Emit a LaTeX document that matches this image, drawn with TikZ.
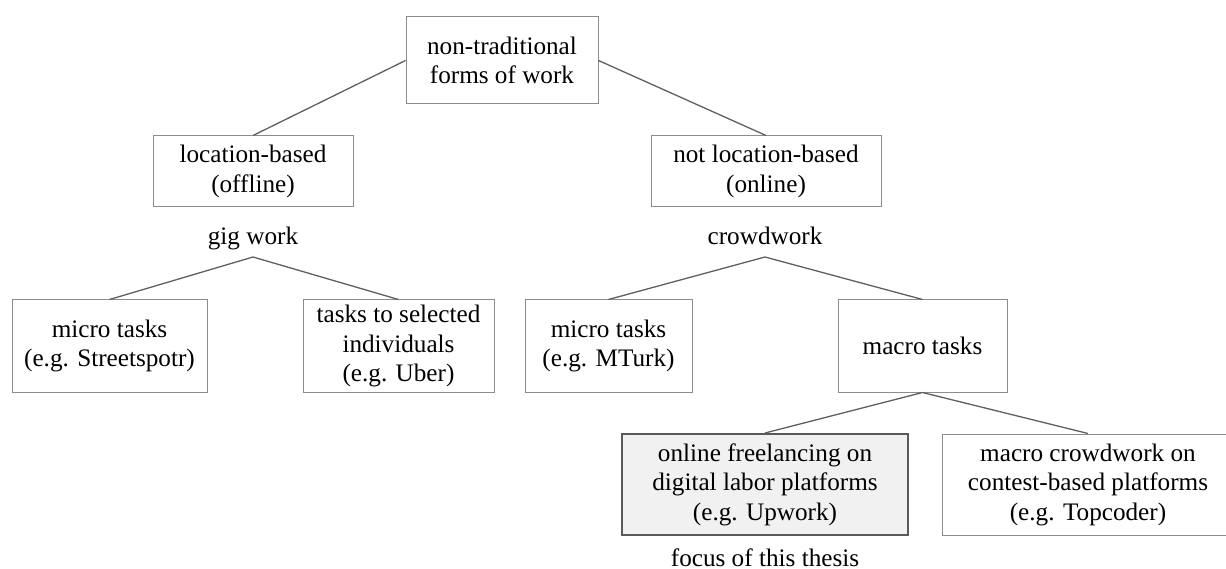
\documentclass[tikz,border=0pt]{standalone}
\usepackage{fontspec}
\setmainfont{Liberation Serif}
\definecolor{boxgray}{RGB}{140,140,140}
\definecolor{linegray}{RGB}{95,95,95}
\definecolor{focusgray}{RGB}{90,90,90}
\definecolor{focusfill}{RGB}{241,241,241}
\begin{document}
\begin{tikzpicture}[x=1pt,y=-1pt,
  treefont/.style={font=\rmfamily\fontsize{25.2}{29.5}\selectfont, text=black},
  box/.style={treefont, draw=boxgray, line width=1pt, inner sep=0pt, align=center},
  focusbox/.style={box, draw=focusgray, line width=2pt, fill=focusfill},
  plaintext/.style={treefont, inner sep=0pt, anchor=base},
  edge/.style={draw=linegray, line width=1.3pt}]
\useasboundingbox (0,0) rectangle (1226,569);

% boxes
\node[box, minimum width=192pt, minimum height=87pt] (root) at (502,60.5) {non-traditional\\forms of work};
\node[box, minimum width=200pt, minimum height=71pt] (loc) at (253,171.5) {location-based\\(offline)};
\node[box, minimum width=230pt, minimum height=71pt] (notloc) at (766,171.5) {not location-based\\(online)};

\node[plaintext] (gig) at (253,245) {gig work};
\node[plaintext] (crowd) at (765,245) {crowdwork};
\coordinate (gigtip) at (253,257);
\coordinate (crowdtip) at (765,257);

\node[box, minimum width=195pt, minimum height=92pt] (microA) at (109.5,346) {micro tasks\\(e.g. Streetspotr)};
\node[box, minimum width=191pt, minimum height=92pt] (sel) at (398.5,346) {tasks to selected\\individuals\\(e.g. Uber)};
\node[box, minimum width=167pt, minimum height=92pt] (microB) at (608.5,346) {micro tasks\\(e.g. MTurk)};
\node[box, minimum width=169pt, minimum height=92pt] (macro) at (922.5,346) {macro tasks};

\node[focusbox, minimum width=286pt, minimum height=101pt] (online) at (765,484.5) {online freelancing on\\digital labor platforms\\(e.g. Upwork)};
\node[box, minimum width=292pt, minimum height=101pt] (contest) at (1088,484.5) {macro crowdwork on\\contest-based platforms\\(e.g. Topcoder)};

\node[plaintext] (focus) at (765,566) {focus of this thesis};

% connectors
\draw[edge] (root.west) -- (loc.north);
\draw[edge] (root.east) -- (notloc.north);
\draw[edge] (gigtip) -- (microA.north);
\draw[edge] (gigtip) -- (sel.north);
\draw[edge] (crowdtip) -- (microB.north);
\draw[edge] (crowdtip) -- (macro.north);
\draw[edge] (macro.south) -- (online.north);
\draw[edge] (macro.south) -- (contest.north);
\end{tikzpicture}
\end{document}
